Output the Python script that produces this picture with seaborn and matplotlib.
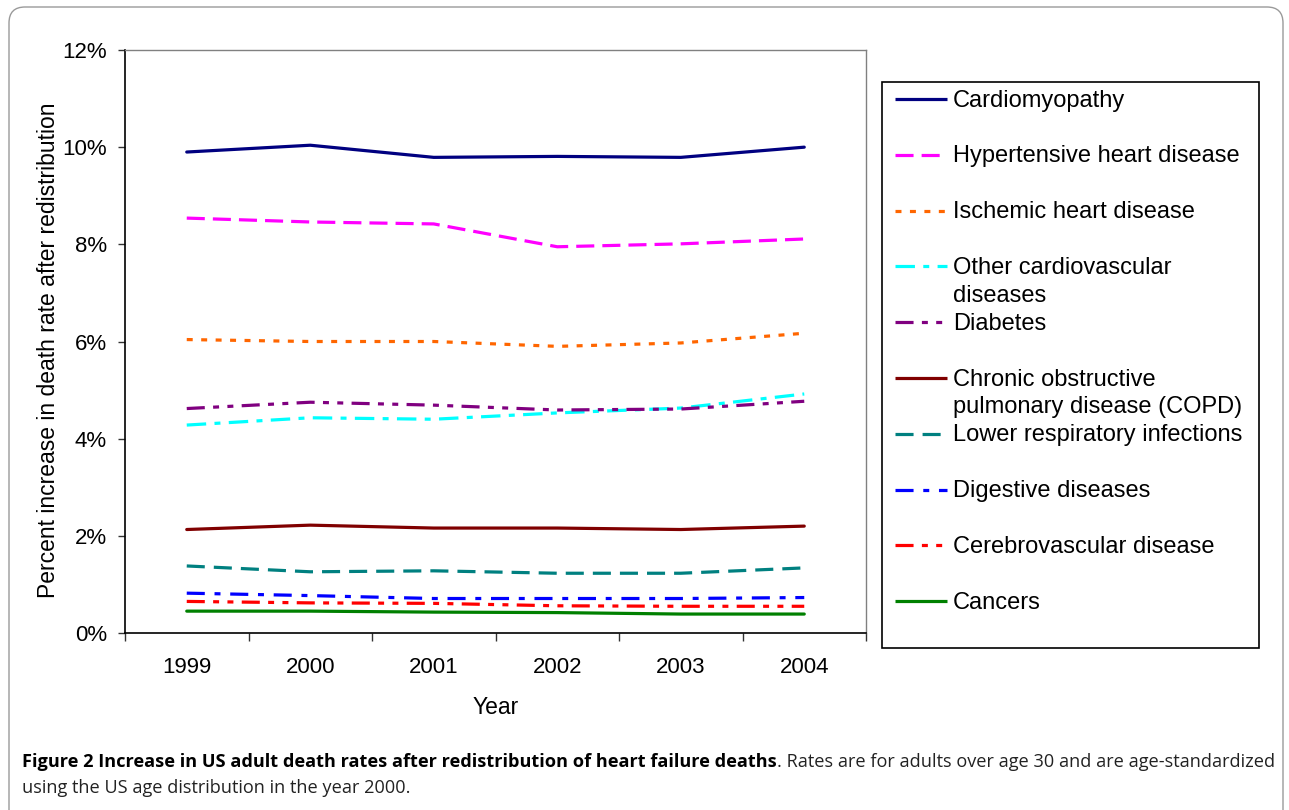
import matplotlib
matplotlib.use('Agg')
import matplotlib.pyplot as plt
import seaborn as sns
import pandas as pd
from matplotlib.patches import Rectangle, FancyBboxPatch

# ---------------- data ----------------
years = [1999, 2000, 2001, 2002, 2003, 2004]
cardiomyopathy = [9.90, 10.04, 9.79, 9.81, 9.79, 10.00]
hypertensive = [8.54, 8.46, 8.42, 7.95, 8.01, 8.11]
ischemic = [6.04, 6.00, 6.00, 5.90, 5.97, 6.17]
other_cvd = [4.28, 4.43, 4.40, 4.53, 4.63, 4.92]
diabetes = [4.62, 4.75, 4.69, 4.59, 4.61, 4.77]
copd = [2.13, 2.22, 2.16, 2.16, 2.13, 2.20]
lri = [1.38, 1.26, 1.28, 1.23, 1.23, 1.34]
digestive = [0.82, 0.77, 0.71, 0.71, 0.71, 0.73]
cerebrovascular = [0.65, 0.62, 0.61, 0.56, 0.55, 0.55]
cancers = [0.45, 0.45, 0.43, 0.42, 0.39, 0.39]

series_names = ["Cardiomyopathy", "Hypertensive heart disease", "Ischemic heart disease",
                "Other cardiovascular diseases", "Diabetes",
                "Chronic obstructive pulmonary disease (COPD)", "Lower respiratory infections",
                "Digestive diseases", "Cerebrovascular disease", "Cancers"]
legend_labels = ["Cardiomyopathy", "Hypertensive heart disease", "Ischemic heart disease",
                 "Other cardiovascular\ndiseases", "Diabetes",
                 "Chronic obstructive\npulmonary disease (COPD)", "Lower respiratory infections",
                 "Digestive diseases", "Cerebrovascular disease", "Cancers"]
series_values = [cardiomyopathy, hypertensive, ischemic, other_cvd, diabetes,
                 copd, lri, digestive, cerebrovascular, cancers]
y_ticks = [0, 2, 4, 6, 8, 10, 12]
y_tick_labels = ["0%", "2%", "4%", "6%", "8%", "10%", "12%"]
x_label = "Year"
y_label = "Percent increase in death rate after redistribution"
caption_bold = "Figure 2 Increase in US adult death rates after redistribution of heart failure deaths"
caption_rest = ". Rates are for adults over age 30 and are age-standardized"
caption_line2 = "using the US age distribution in the year 2000."

# ---------------- styles ----------------
colors = ["#000080", "#FF00FF", "#FF6600", "#00FFFF", "#800080",
          "#800000", "#008080", "#0000FF", "#FF0000", "#008000"]
dash_styles = ["", (13, 5.8), (4.3, 6.1), (14, 6, 4.3, 6), (13, 6, 4.3, 6, 4.3, 6),
               "", (13, 6.5), (13, 7, 4.3, 7), (13, 6, 4.3, 6, 4.3, 6), ""]

sns.set_theme(style="white")
plt.rcParams['font.family'] = ['Liberation Sans', 'DejaVu Sans']
plt.rcParams['lines.scale_dashes'] = False

rows = []
for name, vals in zip(series_names, series_values):
    for yr, v in zip(years, vals):
        rows.append({"Year": yr, "Value": v, "Series": name})
df = pd.DataFrame(rows)

W, H = 1289, 810
fig = plt.figure(figsize=(W / 100, H / 100), dpi=100)
fig.patch.set_facecolor('white')

# overlay in pixel coordinates for frame, legend and caption
ov = fig.add_axes([0, 0, 1, 1], zorder=0)
ov.set_xlim(0, W)
ov.set_ylim(H, 0)
ov.axis('off')

ax = fig.add_axes([125 / W, 1 - 633 / H, (866 - 125) / W, (633 - 50) / H], zorder=1)
ax.set_facecolor('white')

pal = dict(zip(series_names, colors))
dsh = dict(zip(series_names, dash_styles))
sns.lineplot(data=df, x="Year", y="Value", hue="Series", style="Series",
             hue_order=series_names, style_order=series_names,
             palette=pal, dashes=dsh, linewidth=2.3, legend=False, ax=ax)

ax.set_ylim(0, 12)
ax.set_yticks(y_ticks)
ax.set_yticklabels(y_tick_labels, fontsize=16)
ax.set_xlim(years[0] - 0.5, years[-1] + 0.5)
ax.set_xticks([y - 0.5 for y in years] + [years[-1] + 0.5])
ax.set_xticklabels([])
ax.set_xticks(years, minor=True)
ax.set_xticklabels([str(y) for y in years], minor=True, fontsize=16)
ax.tick_params(axis='y', which='major', direction='out', length=5, width=1, color='#333333',
               pad=8, left=True, labelcolor='black')
ax.tick_params(axis='x', which='major', direction='out', length=6, width=1, color='#333333',
               bottom=True)
ax.tick_params(axis='x', which='minor', length=0, pad=17, labelcolor='black')
ax.grid(False)

for s in ['left', 'bottom']:
    ax.spines[s].set_color('black')
    ax.spines[s].set_linewidth(1.2)
for s in ['top', 'right']:
    ax.spines[s].set_color('#808080')
    ax.spines[s].set_linewidth(1.0)

ax.set_xlabel(x_label, fontsize=16.5, color='black')
ax.xaxis.set_label_coords(0.5, -0.108)
ax.set_ylabel(y_label, fontsize=16.5, color='black')
ax.yaxis.set_label_coords(-0.088, 0.485)

# outer rounded frame
ov.add_patch(FancyBboxPatch((9, 7), 1274, 830, boxstyle="round,pad=0,rounding_size=16",
                            linewidth=1.0, edgecolor='#9a9a9a', facecolor='white'))

# legend box (drawn manually to match the layout)
ov.add_patch(Rectangle((882, 82), 377, 566, linewidth=1.2, edgecolor='black', facecolor='white'))
for i, (lab, col, ds) in enumerate(zip(legend_labels, colors, dash_styles)):
    yc = 99 + i * 55.8
    ln, = ov.plot([895, 947], [yc, yc], color=col, linewidth=2.3, solid_capstyle='butt')
    if ds != "":
        ln.set_dashes(ds)
    for k, part in enumerate(lab.split("\n")):
        ov.text(953, yc + 7.5 + k * 27.6, part, fontsize=17, va='baseline', ha='left',
                color='black')

# caption (same family for bold and regular parts, fitted to the reference width)
cap_font = 'Open Sans'
fig.canvas.draw()
renderer = fig.canvas.get_renderer()
size = 12.0
t1 = ov.text(22, 767, caption_bold, fontsize=size, fontweight='bold', family=cap_font,
             va='baseline', ha='left', color='black')
t2 = ov.text(0, 767, caption_rest, fontsize=size, family=cap_font,
             va='baseline', ha='left', color='#222222')
w1 = t1.get_window_extent(renderer).width
w2 = t2.get_window_extent(renderer).width
scale = (1275 - 22) / (w1 + w2)
size = size * scale
t1.set_fontsize(size)
t2.set_fontsize(size)
w1 = t1.get_window_extent(renderer).width
t2.set_x(22 + w1)
ov.text(22, 793, caption_line2, fontsize=size, family=cap_font,
        va='baseline', ha='left', color='#222222')

fig.savefig('out.png', dpi=100, facecolor='white')
